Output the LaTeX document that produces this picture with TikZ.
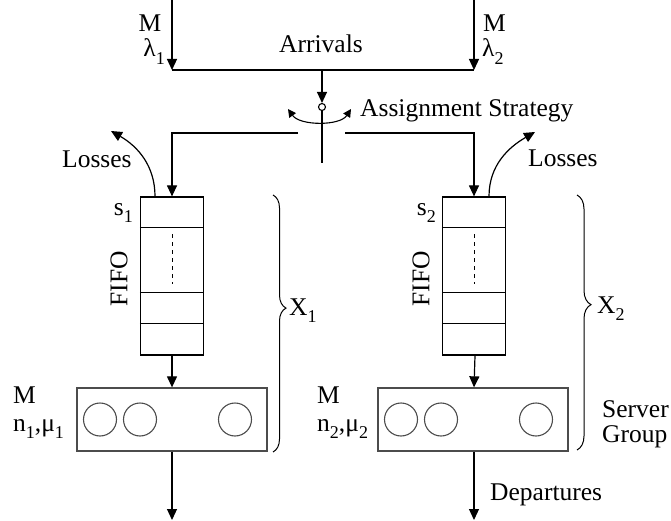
\documentclass[tikz,border=0pt]{standalone}
\usepackage{fontspec}
\setmainfont{Liberation Serif}
\usetikzlibrary{arrows.meta,decorations.pathreplacing,calc}
\newcommand\lowsub[1]{\raisebox{-0.28em}{\fontsize{18}{18}\selectfont #1}}
\tikzset{
  every node/.style={font=\fontsize{25.5}{28}\selectfont, inner sep=0pt},
  wire/.style={line width=1.2pt, draw=black},
  arr/.style={wire, -{Triangle[length=11pt,width=10pt]}},
  swarr/.style={line width=1.1pt, {Triangle[length=8pt,width=8pt]}-{Triangle[length=8pt,width=8pt]}},
  queuebox/.style={draw, line width=1.2pt, minimum width=63pt, minimum height=158pt},
  serverbox/.style={draw=black!70, line width=1.3pt, minimum width=190pt, minimum height=63pt},
  serverunit/.style={draw=black!70, line width=1.1pt},
  groupbrace/.style={line width=1pt, decorate},
  lbl/.style={anchor=base west},
}
\begin{document}
\begin{tikzpicture}[x=1pt, y=-1pt]
\useasboundingbox (0,0) rectangle (671,521);

% arrival streams
\coordinate (srcL) at (172,0);
\coordinate (srcR) at (474,0);
\coordinate (joinL) at (172,70);
\coordinate (joinR) at (474,70);
\coordinate (joinM) at (322,70);
\draw[arr] (srcL) -- (joinL);
\draw[arr] (srcR) -- (joinR);
\draw[wire] (joinL) -- (joinR);
\node[anchor=base] (mA) at (150,32) {M};
\node[anchor=base east] (lam1) at (165,57) {λ\lowsub{1}};
\node[lbl] (mB) at (483,32) {M};
\node[lbl] (lam2) at (482,57) {λ\lowsub{2}};
\node[anchor=base] (arrivals) at (321,53) {Arrivals};

% assignment switch
\node[circle, draw, line width=1.1pt, minimum size=7pt] (sw) at (322,107) {};
\draw[arr] (joinM) -- (sw.north);
\coordinate (swfoot) at (322,163);
\draw[wire] (sw.south) -- (swfoot);
\coordinate (arcL) at (288,109);
\coordinate (arcR) at (351,109);
\draw[swarr] (arcL) .. controls (300,126) and (340,126) .. (arcR);
\node[lbl] (assign) at (360,117) {Assignment Strategy};

% queues
\node[queuebox] (q1) at (172,276) {};
\node[queuebox] (q2) at (474,276) {};
\coordinate (splitL) at (298,133);
\coordinate (splitR) at (345,133);
\draw[arr] (splitL) -| (q1.north);
\draw[arr] (splitR) -| (q2.north);
\foreach \q in {q1,q2} {
  \foreach \d in {31,96,127}
    \draw[line width=1.2pt] (\q.north west) ++(0,\d) -- ++(63,0);
  \draw[line width=1pt, dash pattern=on 4pt off 4pt] ([yshift=-38pt]\q.north) -- ([yshift=-88pt]\q.north);
}
\node[anchor=base east] (s1) at (133,215) {s\lowsub{1}};
\node[anchor=base east] (s2) at (436,215) {s\lowsub{2}};
\node[rotate=90] (fifo1) at (119,279) {FIFO};
\node[rotate=90] (fifo2) at (421,279) {FIFO};

% losses
\coordinate (lossLtip) at (111,131);
\coordinate (lossRtip) at (535,132);
\draw[arr] ([xshift=-17pt]q1.north) to[out=90, in=-30] (lossLtip);
\draw[arr] ([xshift=15pt]q2.north) to[out=90, in=210] (lossRtip);
\node[lbl] (loss1) at (62,168) {Losses};
\node[lbl] (loss2) at (528,167) {Losses};

% server groups
\node[serverbox] (srv1) at (172,419.5) {};
\node[serverbox] (srv2) at (473,419.5) {};
\foreach \s in {srv1,srv2}
  \foreach \dx in {-72,-32,63}
    \draw[serverunit] (\s.center) ++(\dx,0) circle[radius=16.5pt];
\draw[arr] (q1.south) -- (srv1.north);
\draw[arr] ([xshift=1pt]q2.south) -- ([xshift=1pt]srv2.north);
\node[lbl] (m1) at (13,403) {M};
\node[lbl] (nm1) at (13,431) {n\lowsub{1},μ\lowsub{1}};
\node[lbl] (m2) at (317,403) {M};
\node[lbl] (nm2) at (317,431) {n\lowsub{2},μ\lowsub{2}};
\node[anchor=north west, align=left, font=\fontsize{25.5}{25}\selectfont] (sg) at (602,400) {Server\\Group};

% departures
\coordinate (out1) at (172,520);
\coordinate (out2) at (474,520);
\draw[arr] (srv1.south) -- (out1);
\draw[arr] ([xshift=1pt]srv2.south) -- (out2);
\node[lbl] (dep) at (490,500) {Departures};

% state braces
\coordinate (b1top) at (273,195);
\coordinate (b1bot) at (273,452);
\coordinate (b2top) at (577,195);
\coordinate (b2bot) at (577,450);
\draw[groupbrace, decoration={brace, amplitude=13pt, aspect=0.44}] (b1top) -- (b1bot);
\draw[groupbrace, decoration={brace, amplitude=14pt, aspect=0.43}] (b2top) -- (b2bot);
\node[lbl] (x1) at (289,315) {X\lowsub{1}};
\node[lbl] (x2) at (597,313) {X\lowsub{2}};
\end{tikzpicture}
\end{document}
